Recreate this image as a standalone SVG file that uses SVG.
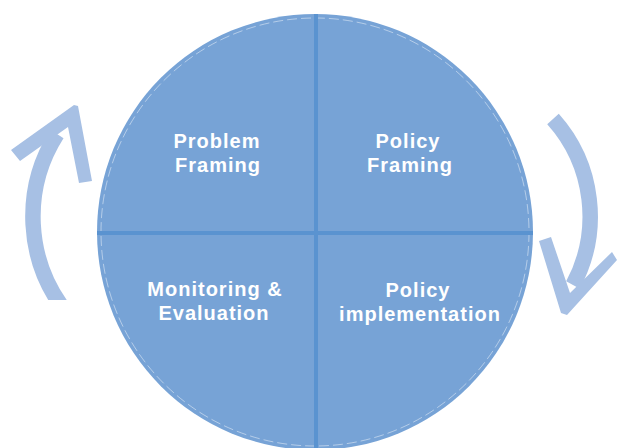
<svg xmlns="http://www.w3.org/2000/svg" width="617" height="448" viewBox="0 0 617 448">
  <style>
    .arrow-band { fill: none; stroke: #a7c0e4; stroke-width: 15.5; }
    .arrow-head { fill: #a7c0e4; }
    .divider { stroke: #5a93d0; stroke-width: 4; }
    .label { font-family: "Liberation Sans", Arial, Helvetica, sans-serif; font-weight: bold; font-size: 20px; letter-spacing: 1px; fill: #ffffff; text-anchor: middle; }
  </style>
  <defs>
    <clipPath id="clipLeft"><rect x="0" y="0" width="120" height="300"/></clipPath>
  </defs>
  <rect width="617" height="448" fill="#ffffff"/>

  <g id="cycle-circle">
    <circle cx="315" cy="232" r="218" fill="#77a3d6"/>
    <circle cx="315" cy="232" r="214" fill="none" stroke="#ffffff" stroke-opacity="0.45" stroke-width="1" stroke-dasharray="10 4"/>
  </g>

  <g id="connectors">
    <line class="divider" x1="316" y1="14" x2="316" y2="450"/>
    <line class="divider" x1="97" y1="233" x2="533" y2="233"/>
    <g id="arrow-left">
      <path class="arrow-band" clip-path="url(#clipLeft)" d="M66,312 A154,154 0 0 1 57,134"/>
      <polygon class="arrow-head" points="11,150 74,105 78,106 92,181 79,183 68,127 20,161"/>
    </g>
    <g id="arrow-right">
      <path class="arrow-band" d="M553,119 A146,146 0 0 1 573,285"/>
      <polygon class="arrow-head" points="539,241 551,237 570,293 612,252 617,260 567,315 561,313"/>
    </g>
  </g>

  <g id="node-problem-framing">
    <text class="label" x="217" y="148">Problem</text>
    <text class="label" x="218" y="172">Framing</text>
  </g>
  <g id="node-policy-framing">
    <text class="label" x="408" y="148">Policy</text>
    <text class="label" x="410" y="172">Framing</text>
  </g>
  <g id="node-monitoring-evaluation">
    <text class="label" x="215" y="296">Monitoring &amp;</text>
    <text class="label" x="214" y="320">Evaluation</text>
  </g>
  <g id="node-policy-implementation">
    <text class="label" x="418" y="297">Policy</text>
    <text class="label" x="420" y="321">implementation</text>
  </g>
</svg>
